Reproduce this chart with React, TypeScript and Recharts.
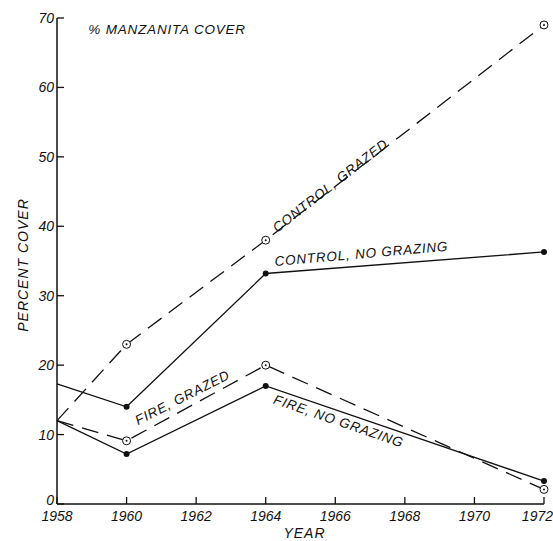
import { LineChart, Line, XAxis, YAxis, ReferenceDot, Label } from "recharts";

const years = [1958, 1960, 1964, 1972];
const controlGrazed = [12, 23, 38, 69];
const controlNoGrazing = [17.3, 14, 33.2, 36.3];
const fireGrazed = [12, 9.1, 20, 2.1];
const fireNoGrazing = [12, 7.2, 17, 3.3];

const xTicks = [1958, 1960, 1962, 1964, 1966, 1968, 1970, 1972];
const yTicks = [0, 10, 20, 30, 40, 50, 60, 70];

// text written along the lines, placed in data units
const lineLabels = [
  { text: "% MANZANITA COVER", x: 1958.9, y: 68.4, angle: 0, anchor: "start" },
  { text: "CONTROL, GRAZED", x: 1965.85, y: 45.9, angle: -38, anchor: "middle" },
  { text: "CONTROL, NO GRAZING", x: 1966.75, y: 36.1, angle: -5, anchor: "middle" },
  { text: "FIRE, GRAZED", x: 1961.6, y: 15.4, angle: -27, anchor: "middle" },
  { text: "FIRE, NO GRAZING", x: 1966.1, y: 12.0, angle: 19, anchor: "middle" },
];

const data = years.map((year, i) => ({
  year,
  controlGrazed: controlGrazed[i],
  controlNoGrazing: controlNoGrazing[i],
  fireGrazed: fireGrazed[i],
  fireNoGrazing: fireNoGrazing[i],
}));

const FONT = "'Liberation Sans', Arial, sans-serif";
const INK = "#111";

function OpenDot(props: any) {
  const { cx, cy, index } = props;
  if (cx == null || index === 0) return <g key={`o${index}`} />;
  return (
    <g key={`o${index}`}>
      <circle cx={cx} cy={cy} r={4} fill="#fff" stroke={INK} strokeWidth={1} />
      <circle cx={cx} cy={cy} r={1} fill={INK} />
    </g>
  );
}

function FilledDot(props: any) {
  const { cx, cy, index } = props;
  if (cx == null || index === 0) return <g key={`f${index}`} />;
  return <circle key={`f${index}`} cx={cx} cy={cy} r={3} fill={INK} />;
}

function YTick({ x, y, payload }: any) {
  // the 0 label sits on the axis line, the others are centred on their tick
  const dy = payload.value === 0 ? 1 : 5;
  return (
    <g>
      <line x1={x} y1={y} x2={x + 7} y2={y} stroke={INK} strokeWidth={1.3} />
      <text x={x - 3} y={y} dy={dy} textAnchor="end" fontFamily={FONT} fontStyle="italic" fontSize={14} fill={INK}>
        {payload.value}
      </text>
    </g>
  );
}

function XTick({ x, y, payload }: any) {
  const last = payload.value === xTicks[xTicks.length - 1];
  return (
    <g>
      <line x1={x} y1={y} x2={x} y2={y - 7} stroke={INK} strokeWidth={1.3} />
      <text
        x={last ? x + 9 : x}
        y={y + 17}
        textAnchor={last ? "end" : "middle"}
        fontFamily={FONT}
        fontStyle="italic"
        fontSize={14}
        fill={INK}
      >
        {payload.value}
      </text>
    </g>
  );
}

export default function App() {
  return (
    <div style={{ position: "fixed", left: 0, top: 0, background: "#fff" }}>
      <LineChart width={553} height={541} data={data} margin={{ top: 18, right: 9, bottom: 0, left: 0 }}>
        <XAxis
          dataKey="year"
          type="number"
          domain={[1958, 1972]}
          ticks={xTicks}
          interval={0}
          height={37}
          tickSize={0}
          tickMargin={0}
          tickLine={false}
          tick={<XTick />}
          axisLine={{ stroke: INK, strokeWidth: 1.5 }}
        >
          <Label
            content={({ viewBox }: any) => (
              <text
                x={viewBox.x + viewBox.width / 2 + 4}
                y={538}
                textAnchor="middle"
                fontFamily={FONT}
                fontStyle="italic"
                fontSize={14}
                letterSpacing={1}
                fill={INK}
              >
                YEAR
              </text>
            )}
          />
        </XAxis>
        <YAxis
          type="number"
          domain={[0, 70]}
          ticks={yTicks}
          interval={0}
          width={57}
          tickSize={0}
          tickMargin={0}
          tickLine={false}
          tick={<YTick />}
          axisLine={{ stroke: INK, strokeWidth: 1.5 }}
        >
          <Label
            content={({ viewBox }: any) => (
              <text
                transform={`translate(28, ${viewBox.y + viewBox.height / 2 + 4}) rotate(-90)`}
                textAnchor="middle"
                fontFamily={FONT}
                fontStyle="italic"
                fontSize={14}
                letterSpacing={1}
                fill={INK}
              >
                PERCENT COVER
              </text>
            )}
          />
        </YAxis>
        <Line type="linear" dataKey="controlGrazed" stroke={INK} strokeWidth={1.3} strokeDasharray="17 9" dot={<OpenDot />} activeDot={false} isAnimationActive={false} />
        <Line type="linear" dataKey="controlNoGrazing" stroke={INK} strokeWidth={1.3} dot={<FilledDot />} activeDot={false} isAnimationActive={false} />
        <Line type="linear" dataKey="fireGrazed" stroke={INK} strokeWidth={1.3} strokeDasharray="17 9" dot={<OpenDot />} activeDot={false} isAnimationActive={false} />
        <Line type="linear" dataKey="fireNoGrazing" stroke={INK} strokeWidth={1.3} dot={<FilledDot />} activeDot={false} isAnimationActive={false} />
        {lineLabels.map((l) => (
          <ReferenceDot
            key={l.text}
            x={l.x}
            y={l.y}
            r={0}
            shape={(p: any) => (
              <text
                transform={`translate(${p.cx}, ${p.cy}) rotate(${l.angle})`}
                dy={5}
                textAnchor={l.anchor as any}
                fontFamily={FONT}
                fontStyle="italic"
                fontSize={13.5}
                letterSpacing={0.8}
                fill={INK}
              >
                {l.text}
              </text>
            )}
          />
        ))}
      </LineChart>
    </div>
  );
}
